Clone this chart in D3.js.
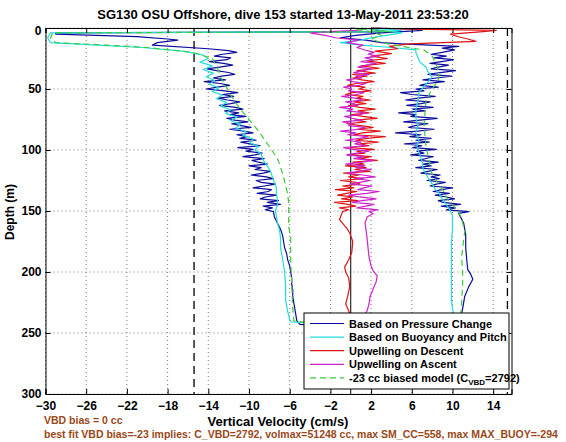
<!DOCTYPE html>
<html><head><meta charset="utf-8">
<script src="https://cdn.jsdelivr.net/npm/d3@7"></script>
<style>
html,body{margin:0;padding:0;background:#fff;}
text{font-family:"Liberation Sans",Arial,Helvetica,sans-serif;font-weight:bold;}
</style></head>
<body><svg id="c" width="566" height="442"></svg>
<script>
// ---------- data ----------
const titleText = "SG130 OSU Offshore, dive 153 started 13-May-2011 23:53:20";
const xTicks = [-30,-26,-22,-18,-14,-10,-6,-2,2,6,10,14];
const yTicks = [0,50,100,150,200,250,300];
const limitLines = [-15.4, 15.4];

const legendLabels = ["Based on Pressure Change","Based on Buoyancy and Pitch","Upwelling on Descent","Upwelling on Ascent","-23 cc biased model (C"];

// Based on Pressure Change (descent then ascent)
const blueDepth = [0,3,4,5,7,9,10,12,14,
 17,18.5,20,21.5,23,24.5,26,27.5,29,30.5,
 32,33.5,35,36.5,38,39.5,41,42.5,44,45.5,
 47,48.5,50,51.5,53,54.5,56,57.5,59,60.5,
 62,63.5,65,66.5,68,69.5,71,72.5,74,75.5,
 77,78.5,80,81.5,83,84.5,86,87.5,89,90.5,
 92,93.5,95,96.5,98,99.5,101,102.5,104,105.5,
 107,108.5,110,111.5,113,114.5,116,117.5,119,120.5,
 122,123.5,125,126.5,128,129.5,131,132.5,134,135.5,
 137,138.5,140,141.5,143,144.5,146,147.5,149,150.5,
 155,160,165,170,175,180,185,190,195,200,205,210,215,220,225,230,235,240,243,245,245,243,
 238,230,220,212,206,202,198,190,180,170,160,155,152,
 150.5,149,147.5,146,144.5,143,141.5,140,138.5,137,
 135.5,134,132.5,131,129.5,128,126.5,125,123.5,122,
 120.5,119,117.5,116,114.5,113,111.5,110,108.5,107,
 105.5,104,102.5,101,99.5,98,96.5,95,93.5,92,
 90.5,89,87.5,86,84.5,83,81.5,80,78.5,77,
 75.5,74,72.5,71,69.5,68,66.5,65,63.5,62,
 60.5,59,57.5,56,54.5,53,51.5,50,48.5,47,
 45.5,44,42.5,41,39.5,38,36.5,35,33.5,32,
 30.5,29,27.5,26,24.5,23,21.5,20,
 18,16.5,15,13,12,10,8,6,4,2,1,0];
const blueVel = [2,3,-29,-29,-21,-18,-17,-19,-19.5,
 -14,-12,-11.2,-12.6,-13.4,-11.8,-12.2,-13.9,-12.5,-11.6,
 -12.9,-14.1,-13.2,-12,-11.4,-12.7,-13.5,-12.3,-14.4,-12.8,
 -11.9,-13.1,-14.2,-12.4,-11.1,-12.6,-11.5,-13,-12.1,-10.9,
 -11.8,-12.9,-11.3,-10.6,-12.4,-11,-11.9,-10.3,-12.2,-11.4,
 -10.1,-11.7,-10.8,-9.8,-11.9,-10.5,-9.6,-11.2,-10.2,-10.9,
 -9.3,-10.8,-9.9,-8.9,-11.1,-9.6,-10.3,-8.7,-9.4,-10.6,
 -8.5,-9.7,-9.1,-8.2,-10,-8.8,-9.4,-7.9,-8.6,-9.8,
 -8.3,-7.6,-9.3,-8.8,-7.4,-8.5,-9.6,-7.8,-8.1,-9.2,
 -7.3,-8.4,-8.9,-7.1,-8.2,-6.9,-8.6,-7.7,-8.4,-7.6,
 -7.5,-7.2,-6.9,-6.7,-6.6,-6.5,-6.3,-6.2,-6,-5.9,-5.8,-5.8,-5.7,-5.7,-5.6,-5.5,-5.4,-5.3,-5,0,6,10.8,
 10.8,11,11.2,11.6,12,11.8,11.5,11.4,11.3,11.3,11.1,10.8,10.6,
 11.6,9.4,10.3,8.9,10.8,9.1,8.6,10.2,9.4,8.3,
 9.7,8.1,8.9,10,7.8,8.4,9.3,7.5,8.7,7.9,
 8.8,6.9,7.6,8.5,6.4,7.9,7.1,8.6,6.7,7.4,
 8.1,5.9,7.2,6.5,8.4,6.1,7,5.3,7.7,6.4,
 7.9,5.8,6.9,4.4,6.6,8.2,5.7,6.3,7.6,5.2,
 6.8,8.5,5.9,6.4,4.7,7.3,6.1,8.1,5.5,6.9,
 7.8,5.4,6.6,8.3,6,4.9,7.2,6.4,8.6,6.8,
 7.5,9.2,7.1,8.4,9.9,7.6,8.8,10.3,7.9,8.6,
 9.6,7.8,8.9,10.1,8.2,9.4,7.9,9,
 10.2,9,10.6,5,3,1.5,-1,0.5,3,7,6,2];

// Based on Buoyancy and Pitch
const cyanDepth = [0,2,3,4,8,12,14,16,19,22,25,28,31,34,37,40,43,46,49,52,55,58,61,64,67,70,73,76,79,82,85,88,91,94,97,100,103,107,112,117,122,127,131,136,141,145,150,155,160,166,172,180,189,200,212,223,232,239,241,243,244,244,
 243,238,230,223,210,200,191,175,165,158,154,150,145,140,136,132,128,124,120,115,109,104,97,92,86,80,74,67,60,53,47,40,36,32,28,24,20,18,16,14,12,10,8,6,4,2,0];
const cyanVel = [2,5,3,-29.5,-29.8,-29.5,-25,-20.5,-16.5,-14.6,-14,-14.8,-13.6,-14.5,-13.5,-14.2,-13.4,-13.9,-13,-13.6,-12.6,-13.2,-12.2,-12.8,-11.8,-12.3,-11.2,-11.8,-10.8,-11.3,-10.3,-10.6,-9.6,-9.9,-9.1,-9.4,-8.8,-8.7,-8.3,-7.9,-7.7,-7.5,-7.3,-7.3,-7.2,-7.2,-7.4,-7.3,-7.2,-7,-6.9,-6.9,-6.7,-6.5,-6.4,-6.4,-6.2,-6,-5.8,-2,5,10.2,
 10.3,10.2,10,9.9,9.9,9.9,9.9,9.9,10,10,10,9.8,9.4,9,8.7,8.3,8,7.7,7.4,7.1,7,6.8,6.5,6.7,6.4,6.6,6.4,6.4,6.6,6.7,7.3,8,7.6,7.4,6.8,6.6,6.4,6.4,4,1,-1,1,2,3.5,5,3,1];

// Upwelling on Descent
const redDepth = [0,1,2,3,5,7,9,11,12,13,15,17,19,21,23,25,27,29,31,33,35,37,38,
 39.5,41,42.5,44,45.5,47,48.5,50,51.5,53,
 54.5,56,57.5,59,60.5,62,63.5,65,66.5,68,
 69.5,71,72.5,74,75.5,77,78.5,80,81.5,83,
 84.5,86,87.5,89,90.5,92,93.5,95,96.5,98,
 99.5,101,102.5,104,105.5,107,108.5,110,111.5,113,
 114.5,116,117.5,119,120.5,122,123.5,125,126.5,128,
 129.5,131,132.5,134,135.5,137,138.5,140,141.5,143,
 144.5,146,147.5,149,150.5,
 157,164,168,175,184,190,196,200,205,212,220,226,232,238,243];
const redVel = [2,6,14.3,13,9.8,10.5,11.5,12.3,9,5.8,3.8,4.6,2.4,4,2,3.6,1.6,3.4,1,2.8,0.6,2.4,0.2,
 1.6,0.2,1.1,2.3,0.5,-0.3,1.4,0.8,2,0.1,
 -0.5,1.2,0.6,1.9,0.3,1.5,-0.2,0.9,2.4,0.7,
 1.8,0.1,1.2,2.6,0.4,1.5,-0.4,1,2.2,0.6,
 2.9,1.1,0.3,3.4,1.6,0.5,2.7,0.9,1.8,0,
 2.3,0.6,1.4,-0.3,2,0.8,2.6,0.2,1.3,-0.5,
 1.5,0.4,1.9,-0.7,0.8,-0.2,1.2,-1,0.5,0.9,
 -0.8,0.3,-1.5,0.6,-0.4,-1.3,0.2,-0.9,0.7,-1.6,
 -0.3,0.5,-1.1,-0.2,-0.8,
 -1.1,-0.4,-0.1,0.2,0.1,-0.2,-0.6,-0.5,-0.2,-0.1,-0.3,-0.5,-0.2,0.1,0.3];

// Upwelling on Ascent
const magDepth = [243,238,232,226,220,214,208,203,199,195,188,180,172,165,160,155,152,
 150.5,149,147.5,146,144.5,143,141.5,140,138.5,137,
 135.5,134,132.5,131,129.5,128,126.5,125,123.5,122,
 120.5,119,117.5,116,114.5,113,111.5,110,108.5,107,
 105.5,104,102.5,101,99.5,98,96.5,95,93.5,92,
 90.5,89,87.5,86,84.5,83,81.5,80,78.5,77,
 75.5,74,72.5,71,69.5,68,66.5,65,63.5,62,
 60.5,59,57.5,56,54.5,53,51.5,50,48.5,47,
 45.5,44,42.5,41,39.5,38,36.5,35,33.5,32,
 30.5,29,27.5,26,24.5,23,21.5,20,
 18,16,14,12,10,8,6,4,3,2,1,0];
const magVel = [0.5,1.2,1.6,1.8,1.9,2.2,2.5,2.6,2.2,2,1.8,1.7,1.6,1.5,1.4,1.6,2.2,
 1.8,2.7,0.6,1.5,2.3,0.2,1.1,2.5,0.9,-0.2,
 1.6,2.8,0.7,1.3,2.1,-0.1,0.9,1.9,0.4,2.4,
 1.2,-0.3,0.8,2,0.5,1.4,-0.5,1.1,2.2,0.3,
 1.3,-0.4,0.6,1.8,0.2,-0.7,1.5,0.4,1,-0.5,
 0.9,1.7,-0.3,0.5,-1,0.8,1.4,-0.2,0.3,-0.8,
 1.1,0.1,-0.6,0.9,1.5,-0.4,0.2,-1.1,0.7,0.3,
 -0.5,1.2,0.4,-0.9,0.6,1.3,-0.2,0.1,-0.7,0.8,
 1.5,0.2,-0.4,1.1,0.5,1.8,0.3,1.2,2,0.7,
 1.6,2.5,1,2.2,1.4,2.8,1.7,2.3,
 1.4,0.6,1.2,-0.4,0.8,-1.5,-2.5,-4,-2,0.5,1.5,0];

// -23 cc biased model
const greenDepth = [0,3,4,8,12,14,16,20,25,30,35,40,45,50,55,60,65,70,75,80,85,90,95,101,107,114,122,129,136,143,150,163,172,190,210,230,240,243,244,243,
 236,225,210,200,188,180,167,156,150,145,140,135,130,125,120,113,105,97,88,80,70,59,50,43,37,30,23,18,15,12,9,6,3,0];
const greenVel = [0,4,-29.3,-29.5,-29,-24,-20,-15.5,-13.6,-13.3,-13,-12.8,-12.5,-12.1,-11.8,-11.4,-11,-10.5,-10,-9.5,-9,-8.6,-8.2,-7.7,-7.2,-6.9,-6.6,-6.4,-6.2,-6.1,-6.1,-6.1,-5.9,-5.9,-5.8,-5.7,-5.6,-3,5,10.8,
 10.8,10.9,11,11,10.9,11,11.2,10.9,10.5,10,9.5,9.2,8.8,8.4,8,7.8,7.6,7.4,7.3,7.2,7.3,7.4,8,8.6,8.7,8.4,8,7.2,5,3,2,3,2,0];

const bottomNote1 = "VBD bias = 0 cc";
const bottomNote2 = "best fit VBD bias=-23 implies: C_VBD=2792, volmax=51248 cc, max SM_CC=558, max MAX_BUOY=-294";

// ---------- drawing ----------
const svg = d3.select("#c");
const L = 45.5, R = 511.5, T = 28, B = 394;
const x = d3.scaleLinear().domain([-30, 15.8]).range([L, R]);
const y = d3.scaleLinear().domain([0, 300]).range([T, B]);

// grid
const g = svg.append("g");
g.selectAll(".gx").data(xTicks).join("line")
  .attr("x1", d => x(d)).attr("x2", d => x(d)).attr("y1", T).attr("y2", B)
  .attr("stroke", "#555").attr("stroke-width", 0.8).attr("stroke-dasharray", "1,3");
g.selectAll(".gy").data(yTicks).join("line")
  .attr("x1", L).attr("x2", R).attr("y1", d => y(d)).attr("y2", d => y(d))
  .attr("stroke", "#555").attr("stroke-width", 0.8).attr("stroke-dasharray", "1,3");

// dashed limit lines and zero line
svg.selectAll(".lim").data(limitLines).join("line")
  .attr("x1", d => x(d)).attr("x2", d => x(d)).attr("y1", T).attr("y2", B)
  .attr("stroke", "#000").attr("stroke-width", 1.3).attr("stroke-dasharray", "8,5");
svg.append("line").attr("x1", x(0)).attr("x2", x(0)).attr("y1", T).attr("y2", B)
  .attr("stroke", "#000").attr("stroke-width", 1);

const line = d3.line().x(d => x(d[1])).y(d => y(d[0]));
function series(depths, vels, color, dash) {
  const pts = depths.map((d, i) => [d, vels[i]]);
  svg.append("path").datum(pts).attr("d", line)
    .attr("fill", "none").attr("stroke", color).attr("stroke-width", 1.2)
    .attr("stroke-linejoin", "round")
    .attr("stroke-dasharray", dash || null);
}
const colors = ["#0c0c9c", "#22dede", "#e01414", "#cc22cc", "#3ccc3c"];
series(blueDepth, blueVel, colors[0]);
series(cyanDepth, cyanVel, colors[1]);
series(redDepth, redVel, colors[2]);
series(magDepth, magVel, colors[3]);
series(greenDepth, greenVel, colors[4], "6,4");

// axes (inward ticks, MATLAB style)
const fontAxis = "12px";
const ax = svg.append("g").attr("transform", `translate(0,${B})`)
  .call(d3.axisBottom(x).tickValues(xTicks).tickSize(-5).tickPadding(7).tickFormat(d3.format("d")));
const axTop = svg.append("g").attr("transform", `translate(0,${T})`)
  .call(d3.axisTop(x).tickValues(xTicks).tickSize(-5).tickFormat(""));
const ay = svg.append("g").attr("transform", `translate(${L},0)`)
  .call(d3.axisLeft(y).tickValues(yTicks).tickSize(-5).tickPadding(4).tickFormat(d3.format("d")));
const ayR = svg.append("g").attr("transform", `translate(${R},0)`)
  .call(d3.axisRight(y).tickValues(yTicks).tickSize(-5).tickFormat(""));
[ax, axTop, ay, ayR].forEach(a => {
  a.select(".domain").attr("stroke", "#000").attr("stroke-width", 1);
  a.selectAll(".tick line").attr("stroke", "#000");
  a.selectAll("text").attr("fill", "#000").style("font-size", fontAxis)
    .style("font-family", '"Liberation Sans",Arial,sans-serif').style("font-weight", "bold");
});
ay.selectAll(".tick text").attr("dy", "0.32em");
ay.selectAll(".tick").filter(d => d === 0).select("text").attr("dy", "0.55em");

// legend
const lg = svg.append("g");
const lx = 304, ly = 313, lw = 205, lh = 76;
lg.append("rect").attr("x", lx).attr("y", ly).attr("width", lw).attr("height", lh)
  .attr("fill", "#fff").attr("stroke", "#000").attr("stroke-width", 1);
legendLabels.forEach((lab, i) => {
  const yy = ly + 10.5 + i * 13.6;
  lg.append("line").attr("x1", lx + 6).attr("x2", lx + 40).attr("y1", yy).attr("y2", yy)
    .attr("stroke", colors[i]).attr("stroke-width", 1.2)
    .attr("stroke-dasharray", i === 4 ? "6,4" : null);
  const t = lg.append("text").attr("x", lx + 45).attr("y", yy + 4)
    .style("font-size", "11px").attr("fill", "#000").text(lab);
  if (i === 4) {
    t.append("tspan").attr("dy", 3).style("font-size", "8px").text("VBD");
    t.append("tspan").attr("dy", -3).text("=2792)");
  }
});

// title and labels
svg.append("text").attr("x", 283).attr("y", 19).attr("text-anchor", "middle")
  .style("font-size", "13px").attr("fill", "#000").text(titleText);
svg.append("text").attr("x", 278).attr("y", 426).attr("text-anchor", "middle")
  .style("font-size", "13px").attr("fill", "#000").text("Vertical Velocity (cm/s)");
svg.append("text").attr("transform", "translate(14,212) rotate(-90)").attr("text-anchor", "middle")
  .style("font-size", "12px").attr("fill", "#000").text("Depth (m)");
svg.append("text").attr("x", 44).attr("y", 424).style("font-size", "10.5px")
  .attr("fill", "#9a4818").text(bottomNote1);
svg.append("text").attr("x", 44).attr("y", 438).style("font-size", "10.5px")
  .attr("fill", "#9a4818").text(bottomNote2);
</script></body></html>
